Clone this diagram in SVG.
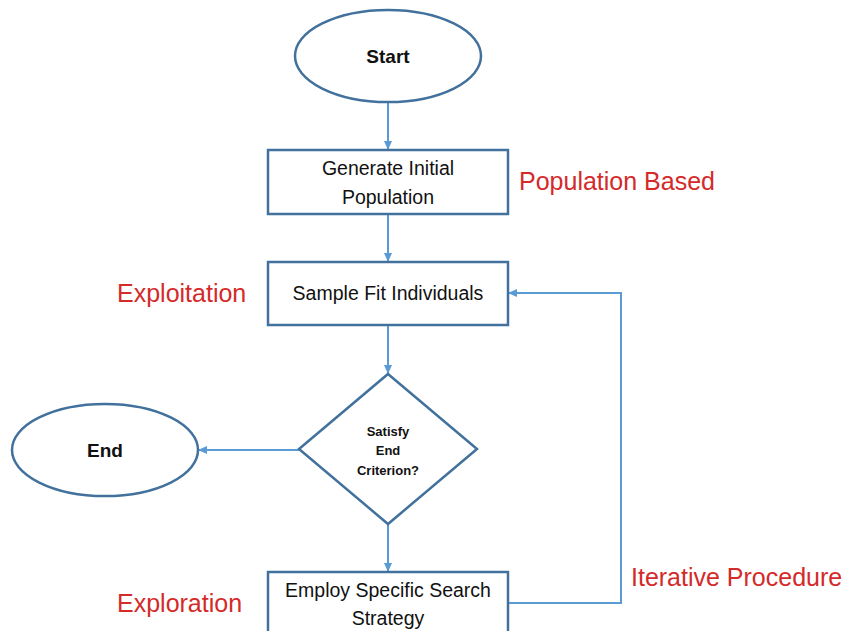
<svg xmlns="http://www.w3.org/2000/svg" width="849" height="631" viewBox="0 0 849 631">
<style>
.shape{fill:#fff;stroke:#41719c;stroke-width:2.5}
.conn{fill:none;stroke:#5b9bd5;stroke-width:2}
.t{font-family:"Liberation Sans",Arial,sans-serif;fill:#111;text-anchor:middle}
.b{font-weight:bold}
.lab{font-family:"Liberation Sans",Arial,sans-serif;fill:#d42a2a;font-size:25px}
</style>
<defs>
<marker id="ah" markerWidth="10" markerHeight="10" refX="8" refY="5" orient="auto" markerUnits="userSpaceOnUse">
<path d="M0,1 L9,5 L0,9 Z" fill="#5b9bd5"/>
</marker>
</defs>
<rect width="849" height="631" fill="#fff"/>
<g id="connectors">
<line class="conn" x1="388" y1="102" x2="388" y2="149" marker-end="url(#ah)"/>
<line class="conn" x1="388" y1="214" x2="388" y2="261" marker-end="url(#ah)"/>
<line class="conn" x1="388" y1="325" x2="388" y2="373" marker-end="url(#ah)"/>
<line class="conn" x1="299" y1="450" x2="199" y2="450" marker-end="url(#ah)"/>
<line class="conn" x1="388" y1="524" x2="388" y2="571" marker-end="url(#ah)"/>
<polyline class="conn" points="508,603 621,603 621,293 509,293" marker-end="url(#ah)"/>
</g>
<g id="start">
<ellipse class="shape" cx="388" cy="56" rx="93" ry="46"/>
<text class="t b" x="388" y="63" font-size="19">Start</text>
</g>
<g id="generate">
<rect class="shape" x="268" y="150" width="240" height="64"/>
<text class="t" x="388" y="175" font-size="19.5">Generate Initial</text>
<text class="t" x="388" y="204" font-size="19.5">Population</text>
</g>
<g id="sample">
<rect class="shape" x="268" y="262" width="240" height="63"/>
<text class="t" x="388" y="300" font-size="19.5">Sample Fit Individuals</text>
</g>
<g id="decision">
<polygon class="shape" points="388,374 477,449 388,524 299,449"/>
<text class="t b" x="388" y="436" font-size="13">Satisfy</text>
<text class="t b" x="388" y="455" font-size="13">End</text>
<text class="t b" x="388" y="475" font-size="13">Criterion?</text>
</g>
<g id="end">
<ellipse class="shape" cx="105" cy="450" rx="93" ry="46"/>
<text class="t b" x="105" y="457" font-size="19">End</text>
</g>
<g id="employ">
<rect class="shape" x="268" y="572" width="240" height="70"/>
<text class="t" x="388" y="597" font-size="19.5">Employ Specific Search</text>
<text class="t" x="388" y="625" font-size="19.5">Strategy</text>
</g>
<g id="labels">
<text class="lab" x="519" y="190">Population Based</text>
<text class="lab" x="117" y="302">Exploitation</text>
<text class="lab" x="117" y="612">Exploration</text>
<text class="lab" x="631" y="586">Iterative Procedure</text>
</g>
</svg>
